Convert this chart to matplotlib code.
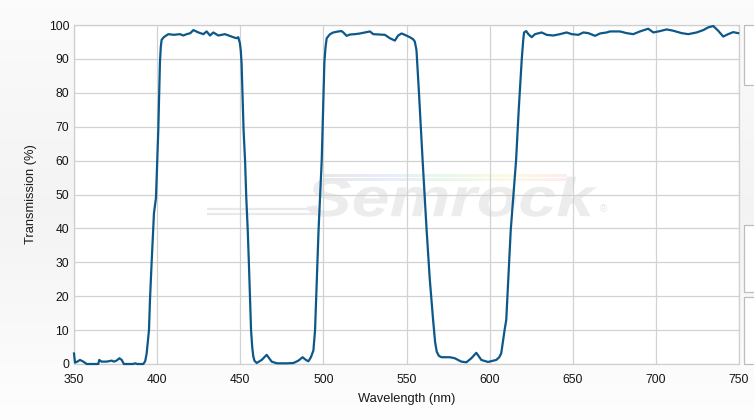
import numpy as np
import matplotlib
matplotlib.use("Agg")
import matplotlib.pyplot as plt
from matplotlib.textpath import TextPath
from matplotlib.patches import PathPatch, Rectangle
from matplotlib.font_manager import FontProperties
from matplotlib.transforms import Affine2D

# ---------------- data ----------------
wavelength = [
    350, 350.6, 352, 353.6, 355.6, 357.6, 364.6, 365.2, 366.6, 369.6, 372.7, 374,
    375.6, 377.3, 378.7, 380, 385.5, 386.7, 388, 391.7, 392.8, 393.7, 395.1, 395.7, 396.7,
    398.1, 399.3, 400.7, 401.7, 402.2, 402.7, 404, 406.7, 410, 413.8, 415.7, 417.8, 420,
    421.8, 424.8, 427.8, 429.8, 431.8, 433.8, 436.8, 440.8, 445.8, 447.8, 448.8,
    449.8, 450.3, 450.8, 452, 452.9, 453.6, 454.5, 455.2, 456.5, 457.2, 457.8, 458.5, 459.9,
    462.9, 465.9, 468.9, 472, 478, 482, 485, 487.5, 489.5, 491, 492.5, 494, 495,
    497.1, 499, 500.6, 501.3, 502, 504, 506, 509, 511, 512, 514, 516, 519, 522, 525, 528,
    530, 534, 537, 540, 543, 545, 547, 549, 552, 554, 555, 556, 557.5, 559.7,
    562.1, 564, 566, 567.2, 568.2, 569.5, 571, 576, 579, 583, 586, 589, 592, 595, 599, 604, 605.8, 607,
    609, 610, 612.7, 615.9, 617.5, 619.3, 620.2, 620.7, 622, 623.3, 625.3, 627.3, 631.3,
    634.3, 638.3, 642.3, 646.3, 649.4, 653.4, 656.4, 659.4, 663.4, 666.4, 670.4,
    672.4, 678.4, 682.4, 686.4, 690.4, 695.4, 698.5, 702.5, 706.5, 710.5, 715.5,
    719.5, 724.5, 728.5, 731.5, 734.5, 737.5, 740.5, 743.5, 746.5, 749.5,
]
transmission = [
    3.1, 0.4, 0.7, 1.2, 0.7, 0.0, 0.0, 1.2, 0.7, 0.7, 1.0, 0.7,
    1.0, 1.7, 1.2, 0.0, 0.0, 0.2, 0.0, 0.0, 0.8, 3.1, 10.0, 18.9, 30.0,
    44.5, 49.0, 69.0, 89.0, 93.5, 95.6, 96.4, 97.3, 97.1, 97.3, 96.9, 97.3, 97.6,
    98.5, 97.8, 97.3, 98.1, 96.9, 97.8, 96.9, 97.3, 96.4, 96.1, 96.4,
    94.6, 92.5, 88.7, 69.0, 60.0, 49.4, 39.5, 29.7, 10.0, 5.0, 2.4, 1.0, 0.3,
    1.2, 2.7, 0.7, 0.2, 0.2, 0.3, 1.0, 2.0, 1.2, 0.8, 2.0, 4.0, 10.0,
    39.5, 60.0, 89.0, 93.5, 96.1, 97.3, 97.8, 98.1, 98.2, 97.8, 96.8, 97.2, 97.3, 97.5, 97.8, 98.1,
    97.3, 97.2, 97.1, 96.1, 95.4, 96.9, 97.5, 97.1, 96.4, 95.8, 95.1, 92.6, 80.0, 60.0,
    39.5, 25.0, 13.0, 6.5, 3.6, 2.4, 2.0, 2.0, 1.7, 0.7, 0.5, 1.7, 3.3, 1.2, 0.6, 1.2, 2.0, 3.2,
    10.0, 13.0, 39.5, 60.0, 75.0, 89.7, 95.5, 97.8, 98.2, 97.3, 96.4, 97.3, 97.8,
    97.1, 96.9, 97.3, 97.8, 97.3, 97.1, 97.8, 97.6, 96.8, 97.5, 97.8,
    98.1, 98.1, 97.6, 97.3, 98.1, 98.9, 97.8, 98.2, 98.7, 98.3, 97.6,
    97.3, 97.8, 98.5, 99.3, 99.7, 98.3, 96.6, 97.3, 97.9, 97.6,
]
x_ticks = [350, 400, 450, 500, 550, 600, 650, 700, 750]
y_ticks = [0, 10, 20, 30, 40, 50, 60, 70, 80, 90, 100]
x_label = "Wavelength (nm)"
y_label = "Transmission (%)"
watermark = "Semrock"

# ---------------- figure ----------------
W, H = 754, 420
fig = plt.figure(figsize=(W / 100, H / 100), dpi=100)
plt.rcParams['font.family'] = ['Liberation Sans', 'DejaVu Sans']

# background gradient
bg = fig.add_axes([0, 0, 1, 1], zorder=-10)
g = np.concatenate([np.linspace(0.985, 0.955, 50), np.linspace(0.955, 0.995, 50)])
grad = np.dstack([g, g, g]).reshape(100, 1, 3)
bg.imshow(grad, aspect='auto', extent=[0, 1, 0, 1], interpolation='bilinear')
bg.set_axis_off()

# right-side clipped boxes
for (y0, y1) in [(25, 85), (225, 292), (297, 364)]:
    fig.patches.append(Rectangle((744 / W, 1 - y1 / H), 30 / W, (y1 - y0) / H,
                                 transform=fig.transFigure, facecolor='white',
                                 edgecolor='#bdbdbd', linewidth=0.9, zorder=-5))

left, right, top, bottom = 74, 739, 25, 364
ax = fig.add_axes([left / W, 1 - bottom / H, (right - left) / W, (bottom - top) / H])
ax.set_xlim(350, 750)
ax.set_ylim(0, 100)
ax.set_xticks(x_ticks)
ax.set_yticks(y_ticks)
ax.grid(True, color='#d2d2d2', linewidth=0.9)
ax.set_axisbelow(True)
for s in ax.spines.values():
    s.set_color('#cfcfcf')
    s.set_linewidth(0.9)
ax.tick_params(axis='both', length=0, labelsize=8.7, labelcolor='#151515')
ax.tick_params(axis='x', pad=7)
ax.tick_params(axis='y', pad=3.5)
ax.set_xlabel(x_label, fontsize=9.3, color='#1a1a1a')
ax.set_ylabel(y_label, fontsize=9.3, color='#1a1a1a')
ax.xaxis.set_label_coords(0.5, (364 - 393) / 339)
ax.yaxis.set_label_coords((37 - 74) / 665, 0.5)


def px2data(xp, yp):
    return 350 + (xp - 74) / 1.6625, (364 - yp) / 3.39


# watermark stripes
x0, _ = px2data(323, 0)
x1, _ = px2data(567, 0)
rainbow = np.array([[0.91, 0.91, 0.91], [0.91, 0.93, 0.99], [0.91, 0.97, 0.92],
                    [0.99, 0.98, 0.89], [0.99, 0.93, 0.93]])
ramp = np.stack([np.interp(np.linspace(0, 4, 200), np.arange(5), rainbow[:, c]) for c in range(3)], axis=-1)
for (ya, yb) in [(174, 177), (178, 181)]:
    _, ta = px2data(0, ya)
    _, tb = px2data(0, yb)
    ax.imshow(ramp[None, :, :], extent=[x0, x1, tb, ta], aspect='auto', zorder=0.2,
              interpolation='bilinear')
gx0, _ = px2data(207, 0)
gx1, _ = px2data(318, 0)
for yp in (209, 213.5):
    _, t = px2data(0, yp)
    ax.plot([gx0, gx1], [t, t], color='#e9e9e9', lw=1.6, zorder=0.2, solid_capstyle='butt')
ax.set_xlim(350, 750)
ax.set_ylim(0, 100)

# watermark text scaled to the logo box
fp = FontProperties(family='Liberation Sans', weight='bold', style='italic')
tp = TextPath((0, 0), watermark, size=100, prop=fp)
ext = tp.get_extents()
sx = 290 / ext.width
sy = 40 / ext.height
tr = (Affine2D().translate(-ext.x0, -ext.y0).scale(sx, sy)
      .translate(307, H - 216.7).scale(1 / W, 1 / H) + fig.transFigure)
fig.patches.append(PathPatch(tp, transform=tr, facecolor='#ececec', edgecolor='none', zorder=-1))
fig.text(603 / W, 1 - 209 / H, '®', fontsize=7, color='#e6e6e6',
         ha='center', va='center', zorder=-1)
ax.patch.set_alpha(0.0)
fig.patches.append(Rectangle((left / W, 1 - bottom / H), (right - left) / W, (bottom - top) / H,
                             transform=fig.transFigure, facecolor='white', edgecolor='none',
                             zorder=-2))

ax.plot(wavelength, transmission, color='#0d588a', lw=1.6, zorder=3, clip_on=False,
        solid_joinstyle='round')

fig.savefig('out.png', dpi=100)
